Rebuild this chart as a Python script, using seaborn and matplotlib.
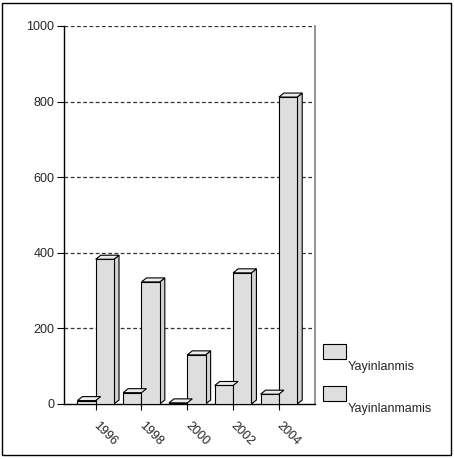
import matplotlib
matplotlib.use("Agg")
import matplotlib.pyplot as plt
import matplotlib.transforms as mtransforms
import seaborn as sns
import pandas as pd
from matplotlib.patches import Polygon, Rectangle

years = ["1996", "1998", "2000", "2002", "2004"]
series_names = ["Yayinlanmis", "Yayinlanmamis"]
yayinlanmis = [9, 30, 3, 49, 26]
yayinlanmamis = [383, 323, 130, 347, 812]
yticks = [0, 200, 400, 600, 800, 1000]

df = pd.DataFrame({
    "year": years * 2,
    "value": yayinlanmis + yayinlanmamis,
    "series": [series_names[0]] * len(years) + [series_names[1]] * len(years),
})

sns.set_theme(style="white")
plt.rcParams["font.family"] = ["Liberation Sans", "DejaVu Sans"]

W, H = 454, 459
fig = plt.figure(figsize=(W / 100, H / 100), dpi=100)
ax = fig.add_axes([64 / W, 1 - 404 / H, (315 - 64) / W, (404 - 26) / H])

face = "#dedede"
top_c = "#ececec"
side_c = "#d2d2d2"

sns.barplot(data=df, x="year", y="value", hue="series", order=years,
            hue_order=series_names, palette=[face, face], edgecolor="black",
            linewidth=0.8, ax=ax, legend=False, zorder=3)

ax.set_xlim(-0.692, 4.788)
ax.set_ylim(0, 1000)

# pseudo-3D depth
dx = 5 / 45.8
dy = 4 / 0.378
for p in ax.patches:
    x0 = p.get_x()
    w = p.get_width()
    h = p.get_height()
    x1 = x0 + w
    top = Polygon([(x0, h), (x0 + dx, h + dy), (x1 + dx, h + dy), (x1, h)],
                  closed=True, facecolor=top_c, edgecolor="black", lw=0.8, zorder=3)
    side = Polygon([(x1, 0), (x1 + dx, dy), (x1 + dx, h + dy), (x1, h)],
                   closed=True, facecolor=side_c, edgecolor="black", lw=0.8, zorder=2.9)
    ax.add_patch(side)
    ax.add_patch(top)

# gridlines
for yv in yticks[1:]:
    ax.axhline(yv, color="#333333", lw=0.9, ls=(0, (3, 2)), zorder=1)

ax.set_yticks(yticks)
ax.set_yticklabels([str(v) for v in yticks], fontsize=9)
ax.set_xlabel("")
ax.set_ylabel("")
ax.tick_params(axis="y", length=5, width=0.8, pad=2, color="black", left=True)
ax.tick_params(axis="x", length=4, width=0.8, pad=7.5, color="black", bottom=True)
offset = mtransforms.ScaledTranslation(4 / 100, 0, fig.dpi_scale_trans)
for lab in ax.get_xticklabels():
    lab.set_rotation(-45)
    lab.set_ha("left")
    lab.set_va("top")
    lab.set_rotation_mode("anchor")
    lab.set_fontsize(9)
    lab.set_transform(lab.get_transform() + offset)

for s in ["left", "bottom"]:
    ax.spines[s].set_color("black")
    ax.spines[s].set_linewidth(1.0)
ax.spines["top"].set_visible(False)
ax.spines["right"].set_color("#808080")
ax.spines["right"].set_linewidth(1.2)
ax.grid(False)

# legend drawn manually
leg_y = [344, 386]
for name, yy in zip(series_names, leg_y):
    fig.patches.append(Rectangle((323 / W, 1 - (yy + 15) / H), 23 / W, 15 / H,
                                 transform=fig.transFigure, facecolor=face,
                                 edgecolor="black", lw=0.8))
    fig.text(348 / W, 1 - (yy + 23) / H, name, fontsize=9, va="center", ha="left")

# outer border
fig.patches.append(Rectangle((2 / W, 1 - 455 / H), 449 / W, 452 / H,
                             transform=fig.transFigure, facecolor="none",
                             edgecolor="black", lw=1.0))

fig.savefig("out.png", dpi=100)
